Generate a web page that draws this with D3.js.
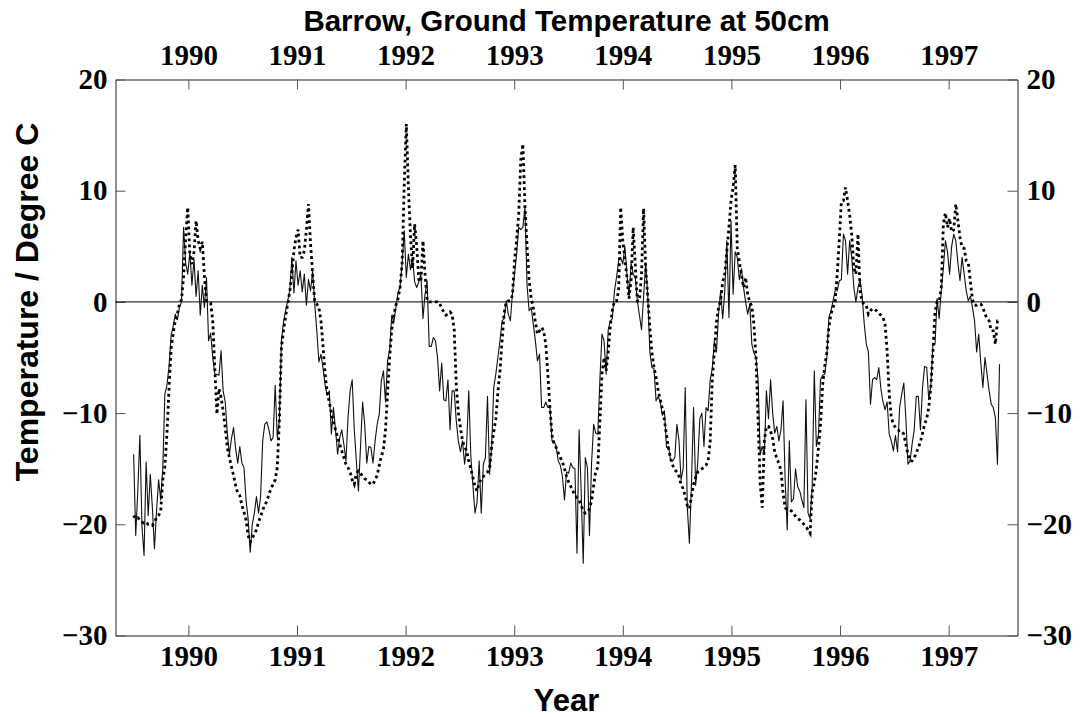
<!DOCTYPE html>
<html>
<head>
<meta charset="utf-8">
<script src="https://cdn.jsdelivr.net/npm/d3@7"></script>
<style>
  body { margin: 0; background: #fff; }
  svg { display: block; }
</style>
</head>
<body>
<svg id="chart" width="1081" height="717"></svg>
<script>
// Weekly ground temperature samples at 50 cm depth, Barrow.
// Time axis in decimal years; the first sample falls at seriesStart.
const seriesStart = 1989.496;
const sampleStepYears = 7 / 365.25;

const yearTicks = [1990, 1991, 1992, 1993, 1994, 1995, 1996, 1997];
const tempTicks = [20, 10, 0, -10, -20, -30];

// Sensor A (thin solid trace), degrees C
const sensorA = [
  -13.7, -21.0, -17.0, -12.0, -20.2, -22.8, -14.4, -19.2, -15.5, -18.5,
  -22.2, -18.8, -16.0, -17.8, -15.0, -8.3, -7.5, -5.8, -3.0, -2.2,
  -1.1, -1.6, -0.5, 0.0, 6.7, 3.5, 2.5, 4.5, 1.5, 3.8,
  0.5, 2.8, -1.2, 1.5, -0.5, 2.2, -3.5, -2.8, -5.0, -6.5,
  -6.5, -6.6, -4.4, -8.0, -9.0, -11.8, -13.7, -12.3, -11.3, -13.2,
  -14.5, -13.0,
  -14.5, -14.9, -17.8, -19.5, -22.5, -20.0, -19.0, -17.5, -19.0, -17.5,
  -12.5, -11.0, -10.8, -11.5, -12.5, -12.2, -7.5, -12.2, -10.7, -3.5,
  -1.8, -0.8, 0.1, 1.0, 4.0, 0.8, 3.7, 1.5, 2.8, 0.9,
  2.5, -0.3, 2.0, 1.0, 2.8, -0.2, -2.6, -5.4, -4.7, -6.0,
  -7.5, -8.4, -8.0, -11.9, -9.5, -11.5, -13.7, -12.2, -11.5, -12.8,
  -14.3, -10.4, -8.0, -7.0, -11.5,
  -14.3, -17.0, -13.0, -9.0, -11.0, -14.5, -13.0, -13.1, -14.5, -12.5,
  -11.0, -10.1, -7.1, -6.2, -9.0, -5.3, -4.3, -1.2, -1.8, -0.5,
  0.8, 1.4, 3.5, 6.4, 2.2, 4.3, 2.9, 4.0, 1.8, 1.3,
  1.8, 2.5, -1.5, 0.7, 1.9, -4.0, -4.0, -3.2, -3.5, -5.0,
  -8.0, -5.5, -8.8, -8.9, -7.0, -11.5, -8.0, -8.0, -10.7, -12.5,
  -13.5, -12.5, -14.6, -12.8, -8.0, -13.9, -16.5, -19.0,
  -18.0, -14.3, -19.0, -14.6, -14.0, -8.5, -15.5, -13.0, -7.7, -6.5,
  -5.0, -3.5, -1.7, -1.5, 0.1, -1.1, -1.7, 0.8, 2.5, 4.3,
  6.7, 6.5, 6.7, 8.5, 1.5, -0.8, -0.5, -2.0, -3.5, -5.3,
  -4.7, -9.5, -9.5, -9.0, -9.5, -9.5, -12.5, -12.5, -13.0, -14.3,
  -14.7, -15.7, -17.8, -15.3, -15.4, -14.5, -14.9, -15.0, -22.6, -11.5,
  -17.0, -23.5, -14.0, -14.9, -21.0, -14.5, -11.0, -11.8,
  -11.9, -7.0, -2.9, -3.5, -6.5, -2.5, -1.7, -1.5, 1.0, 2.2,
  3.7, 4.0, 3.4, 5.0, 2.5, 0.5, 3.5, 2.5, 2.2, 0.1,
  -1.2, -2.5, 0.5, 3.5, 0.5, -4.5, -5.9, -6.0, -8.9, -8.5,
  -9.0, -10.2, -9.8, -13.1, -13.0, -14.3, -14.3, -14.0, -11.0, -12.5,
  -16.0, -15.0, -7.7, -18.5, -21.7, -16.3, -9.5, -16.5, -14.5, -10.5,
  -10.0, -13.0, -9.5, -9.8, -7.0, -6.0, -3.5,
  -4.5, -1.1, 1.0, -1.5, 1.0, 5.5, -1.4, 7.3, 0.7, 4.5,
  4.0, 2.0, 3.0, 1.3, 0.0, -1.1, -0.2, -3.8, -4.6, -5.0,
  -7.0, -13.7, -13.0, -13.7, -8.0, -10.5, -7.0, -10.0, -11.8, -11.2,
  -12.5, -11.5, -8.9, -16.0, -20.5, -12.5, -18.0, -17.7, -15.0, -16.6,
  -17.0, -17.8, -18.5, -8.8, -19.0, -19.5, -16.6, -6.2, -13.0, -11.9,
  -7.0, -6.6, -6.5, -5.0, -1.4, -0.8, 0.1, 1.0,
  1.0, 1.9, 2.0, 6.1, 5.5, 2.5, 5.5, 4.0, 1.3, 0.0,
  1.3, 2.0, 0.5, -2.0, -3.8, -4.5, -9.2, -7.0, -6.8, -7.0,
  -5.9, -7.8, -9.0, -9.7, -9.0, -11.9, -12.5, -13.4, -12.0, -13.5,
  -9.5, -8.3, -7.3, -10.5, -14.6, -14.3, -12.8, -11.5, -8.5, -8.5,
  -11.5, -7.7, -5.8, -5.9, -8.8, -7.5, -3.8, -3.8, 0.3, -1.5,
  1.0, 3.0, 5.5, 4.5, 2.5, 5.0, 6.1, 5.5, 3.5, 1.9,
  4.0, 2.5, 1.0, 0.1, 0.5, -0.5, -1.7, -4.5, -2.9, -5.5,
  -7.7, -5.0, -6.5, -8.0, -9.2, -9.5, -10.4, -14.6, -5.6
];

// Sensor B (heavy dotted trace), degrees C
const sensorB = [
  -19.2, -19.5, -19.4, -19.6, -19.8, -19.9, -19.8, -20.0, -20.0, -20.1,
  -19.8, -19.4, -19.2, -18.8, -16.0, -14.8, -11.8, -7.8, -4.2, -2.8,
  -1.7, -1.1, -0.2, 0.2, 2.3, 5.8, 8.5, 4.3, 3.4, 4.5,
  7.3, 5.5, 4.8, 5.4, 2.3, 0.1, 0.0, -0.1, -1.7, -6.0,
  -10.1, -7.8, -8.6, -9.8, -11.3, -13.1, -14.0, -14.8, -15.6, -16.5,
  -17.2, -17.4,
  -18.3, -18.9, -19.6, -21.0, -21.6, -21.2, -20.9, -20.5, -19.8, -19.3,
  -18.7, -18.3, -17.9, -17.3, -16.8, -16.4, -16.0, -14.9, -10.7, -4.1,
  -2.6, -1.3, -0.2, 0.9, 2.5, 4.6, 5.8, 6.5, 4.0, 4.0,
  4.6, 6.5, 8.8, 5.2, 2.5, 0.0, -0.2, -0.5, -1.7, -4.0,
  -6.5, -8.2, -9.0, -10.0, -10.8, -11.5, -12.2, -12.8, -13.4, -14.0,
  -14.6, -14.9, -15.3, -16.0, -16.4,
  -15.4, -15.2, -15.4, -15.7, -15.9, -16.0, -16.2, -16.4, -16.4, -16.0,
  -15.6, -14.7, -13.9, -13.3, -11.5, -8.2, -5.0, -2.5, -1.2, -0.3,
  0.3, 1.3, 3.5, 10.5, 16.0, 10.3, 6.0, 3.0, 7.0, 5.0,
  2.0, 1.8, 5.5, 2.5, 0.1, 0.0, 0.0, 0.0, 0.0, 0.0,
  -0.1, -0.6, -0.9, -1.2, -1.1, -0.9, -1.1, -2.5, -7.5, -10.0,
  -11.3, -12.5, -13.0, -13.4, -14.3, -15.0, -15.8, -16.6,
  -17.0, -16.3, -15.9, -15.7, -15.5, -15.3, -15.0, -13.0, -11.7, -10.5,
  -8.1, -6.2, -3.5, -1.0, 0.0, 0.1, 0.1, 0.6, 3.7, 5.6,
  7.9, 12.8, 14.2, 8.5, 5.0, 2.0, 0.3, -0.5, -1.8, -2.9,
  -2.6, -2.3, -2.6, -3.8, -6.5, -9.5, -12.0, -12.8, -13.1, -13.6,
  -14.0, -14.4, -15.0, -15.7, -16.2, -16.6, -17.0, -17.4, -17.6, -17.8,
  -18.3, -18.8, -19.0, -18.9, -18.6, -17.9, -16.5, -15.2,
  -14.9, -10.7, -6.5, -5.0, -6.2, -4.5, -2.2, -0.7, 0.1, 0.1,
  1.0, 8.5, 5.5, 3.9, 2.2, 0.3, 2.0, 6.7, 3.3, 0.1,
  0.1, 2.5, 8.4, 3.0, 0.5, -2.3, -4.6, -5.9, -6.8, -8.0,
  -8.8, -9.6, -10.6, -12.0, -13.2, -14.1, -14.7, -15.1, -15.3, -15.7,
  -16.4, -16.8, -17.5, -18.3, -18.6, -17.5, -16.4, -15.8, -15.3, -15.1,
  -15.0, -14.9, -14.7, -14.3, -12.5, -7.0, -4.5,
  -1.8, -0.5, 0.1, 1.8, 2.5, 4.6, 6.7, 9.1, 10.3, 12.3,
  4.8, 3.6, 2.5, 1.3, 2.2, 0.7, 0.0, -0.4, -2.0, -5.0,
  -10.5, -16.3, -18.5, -12.5, -11.2, -11.2, -11.6, -12.3, -13.5, -14.1,
  -14.5, -15.2, -17.2, -18.5, -18.7, -18.7, -18.8, -19.0, -19.3, -19.5,
  -19.6, -19.8, -20.0, -20.2, -20.5, -20.8, -17.1, -16.3, -15.0, -13.1,
  -11.0, -7.5, -5.8, -4.6, -2.3, -1.1, -0.5, 0.0,
  2.5, 5.5, 9.0, 9.1, 10.3, 9.1, 7.8, 6.0, 3.1, 2.5,
  6.1, 1.0, 0.0, -0.2, -0.3, -1.1, -0.8, -0.6, -0.7, -0.8,
  -1.0, -1.2, -1.4, -2.0, -4.4, -8.3, -10.4, -11.0, -11.3, -11.5,
  -11.6, -11.6, -11.9, -12.8, -13.7, -14.3, -14.3, -14.0, -13.6, -13.1,
  -12.6, -11.8, -11.0, -10.5, -9.5, -7.6, -4.5, -0.9, 0.0, 0.0,
  1.3, 7.0, 8.0, 6.7, 7.5, 6.3, 6.5, 8.8, 7.3, 5.8,
  4.9, 4.8, 3.7, 3.5, 1.8, 0.2, -0.3, -0.3, -0.2, -0.2,
  -0.5, -1.1, -1.5, -1.7, -2.6, -2.6, -3.8, -1.7, -1.7
];

const titleText = "Barrow, Ground Temperature at 50cm";
const xTitle = "Year";
const yTitle = "Temperature / Degree C";

// ---- layout ----
const plot = { left: 115.5, right: 1017.5, top: 79.5, bottom: 635.5 };
const serif = "'Liberation Serif', 'Times New Roman', Times, serif";
const sans = "'Liberation Sans', Arial, Helvetica, sans-serif";

const svg = d3.select("#chart");

const x = d3.scaleLinear()
  .domain([1989.329, 1997.634])
  .range([plot.left, plot.right]);

const y = d3.scaleLinear()
  .domain([-30, 20])
  .range([plot.bottom, plot.top]);

const toPoints = vals => vals.map((v, i) => ({ t: seriesStart + i * sampleStepYears, v }));

// ---- axes (ticks point into the plot) ----
function styleAxis(g) {
  g.attr("font-family", serif)
   .attr("font-size", 29)
   .attr("font-weight", "bold");
  g.select(".domain").attr("stroke", "#222").attr("stroke-width", 1);
  g.selectAll(".tick line").attr("stroke", "#555").attr("stroke-width", 1);
  g.selectAll(".tick text").attr("fill", "#000");
}

const fmtYear = d3.format("d");
const fmtTemp = d3.format("d");

svg.append("g")
  .attr("transform", `translate(0,${plot.bottom})`)
  .call(d3.axisBottom(x).tickValues(yearTicks).tickFormat(fmtYear)
    .tickSize(-10).tickSizeOuter(0).tickPadding(10))
  .call(styleAxis);

svg.append("g")
  .attr("transform", `translate(0,${plot.top})`)
  .call(d3.axisTop(x).tickValues(yearTicks).tickFormat(fmtYear)
    .tickSize(-10).tickSizeOuter(0).tickPadding(14.5))
  .call(styleAxis);

svg.append("g")
  .attr("transform", `translate(${plot.left},0)`)
  .call(d3.axisLeft(y).tickValues(tempTicks).tickFormat(fmtTemp)
    .tickSize(-10).tickSizeOuter(0).tickPadding(8))
  .call(styleAxis);

svg.append("g")
  .attr("transform", `translate(${plot.right},0)`)
  .call(d3.axisRight(y).tickValues(tempTicks).tickFormat(fmtTemp)
    .tickSize(-10).tickSizeOuter(0).tickPadding(9))
  .call(styleAxis);

// ---- zero reference line ----
svg.append("line")
  .attr("x1", plot.left).attr("x2", plot.right)
  .attr("y1", y(0)).attr("y2", y(0))
  .attr("stroke", "#000").attr("stroke-width", 1);

// ---- series ----
const line = d3.line().x(d => x(d.t)).y(d => y(d.v));

svg.append("path")
  .datum(toPoints(sensorA))
  .attr("d", line)
  .attr("fill", "none")
  .attr("stroke", "#111")
  .attr("stroke-width", 1.1)
  .attr("stroke-linejoin", "round");

svg.append("path")
  .datum(toPoints(sensorB))
  .attr("d", line)
  .attr("fill", "none")
  .attr("stroke", "#000")
  .attr("stroke-width", 2.8)
  .attr("stroke-dasharray", "2.8,3.2");

// ---- titles ----
svg.append("text")
  .attr("x", (plot.left + plot.right) / 2)
  .attr("y", 31)
  .attr("text-anchor", "middle")
  .attr("font-family", sans)
  .attr("font-weight", "bold")
  .attr("font-size", 29.5)
  .text(titleText);

svg.append("text")
  .attr("x", (plot.left + plot.right) / 2)
  .attr("y", 711)
  .attr("text-anchor", "middle")
  .attr("font-family", sans)
  .attr("font-weight", "bold")
  .attr("font-size", 31)
  .text(xTitle);

svg.append("text")
  .attr("transform", "translate(38,302) rotate(-90)")
  .attr("text-anchor", "middle")
  .attr("font-family", sans)
  .attr("font-weight", "bold")
  .attr("font-size", 32)
  .text(yTitle);
</script>
</body>
</html>
